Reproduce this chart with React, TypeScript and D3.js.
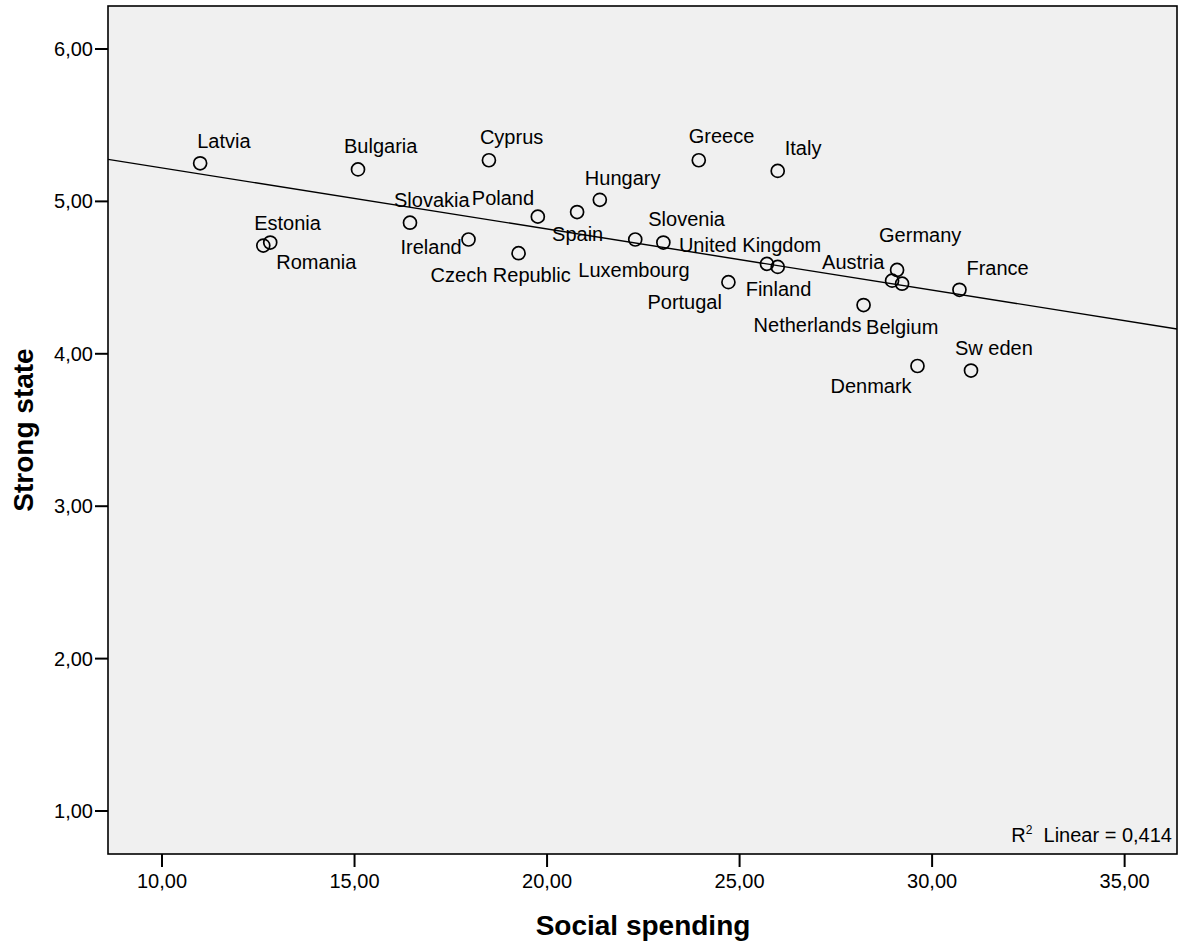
import React from "react";
import * as d3 from "d3";

const countries = [
  "Latvia", "Bulgaria", "Cyprus", "Greece", "Italy", "Hungary", "Spain", "Poland",
  "Slovakia", "Ireland", "Czech Republic", "Estonia", "Romania", "Slovenia", "Luxembourg",
  "United Kingdom", "Finland", "Portugal", "Germany", "Austria", "Belgium", "Netherlands",
  "France", "Denmark", "Sweden",
];
const displayLabels = [
  "Latvia", "Bulgaria", "Cyprus", "Greece", "Italy", "Hungary", "Spain", "Poland",
  "Slovakia", "Ireland", "Czech Republic", "Estonia", "Romania", "Slovenia", "Luxembourg",
  "United Kingdom", "Finland", "Portugal", "Germany", "Austria", "Belgium", "Netherlands",
  "France", "Denmark", "Sw eden",
];
const socialSpending = [
  10.99, 15.09, 18.49, 23.94, 25.99, 21.37, 20.78, 19.76,
  16.44, 17.96, 19.26, 12.81, 12.63, 22.29, 23.02,
  25.71, 25.99, 24.71, 29.09, 28.96, 29.22, 28.22,
  30.71, 29.62, 31.01,
];
const strongState = [
  5.25, 5.21, 5.27, 5.27, 5.20, 5.01, 4.93, 4.90,
  4.86, 4.75, 4.66, 4.73, 4.71, 4.75, 4.73,
  4.59, 4.57, 4.47, 4.55, 4.48, 4.46, 4.32,
  4.42, 3.92, 3.89,
];
// label placement (layout only): offset of text start / baseline from point centre, px
const labelDx = [-3, -14, -9, -10, 7, -15, -25, -66, -16, -68, -88, -16, 13, 13, -85, -88, -32, -81, -18, -70, -36, -110, 7, -87, -16];
const labelDy = [-15, -16, -16, -17, -16, -15, 29, -12, -16, 15, 29, -13, 23, -13, 34, -12, 29, 27, -28, -12, 50, 27, -15, 27, -16];

const xTicks = [10, 15, 20, 25, 30, 35];
const yTicks = [1, 2, 3, 4, 5, 6];
const xTitle = "Social spending";
const yTitle = "Strong state";
const r2Text = "Linear = 0,414";

const W = 1184, H = 947;
const L = 108, T = 6, R = 1177, B = 854;

export default function App() {
  const x = d3.scaleLinear().domain([8.597, 36.36]).range([L, R]);
  const y = d3.scaleLinear().domain([0.718, 6.282]).range([B, T]);
  const fmt = (v: number) => d3.format(".2f")(v).replace(".", ",");

  // least squares fit
  const n = socialSpending.length;
  const mx = d3.mean(socialSpending)!;
  const my = d3.mean(strongState)!;
  let sxy = 0, sxx = 0;
  for (let i = 0; i < n; i++) {
    sxy += (socialSpending[i] - mx) * (strongState[i] - my);
    sxx += (socialSpending[i] - mx) ** 2;
  }
  const slope = sxy / sxx;
  const icpt = my - slope * mx;
  const [x0, x1] = x.domain();
  const line = d3.line<number>().x((d) => x(d)).y((d) => y(icpt + slope * d));

  const font = "'Liberation Sans', Arial, sans-serif";

  return (
    <svg width={W} height={H} style={{ position: "absolute", left: 0, top: 0, background: "#fff" }} fontFamily={font}>
      <defs>
        <clipPath id="plotclip">
          <rect x={L} y={T} width={R - L} height={B - T} />
        </clipPath>
      </defs>
      <rect x={L} y={T} width={R - L} height={B - T} fill="#f0f0f0" />
      <path d={line([x0, x1]) || ""} stroke="#000" strokeWidth={1.4} fill="none" clipPath="url(#plotclip)" />
      {countries.map((c, i) => (
        <g key={c}>
          <circle cx={x(socialSpending[i])} cy={y(strongState[i])} r={6.5} fill="none" stroke="#000" strokeWidth={1.7} />
          <text x={x(socialSpending[i]) + labelDx[i]} y={y(strongState[i]) + labelDy[i]} fontSize={20} fill="#000">
            {displayLabels[i]}
          </text>
        </g>
      ))}
      <rect x={L} y={T} width={R - L} height={B - T} fill="none" stroke="#000" strokeWidth={1.6} />
      {xTicks.map((t) => (
        <g key={"x" + t}>
          <line x1={x(t)} x2={x(t)} y1={B} y2={B + 13} stroke="#000" strokeWidth={2} />
          <text x={x(t)} y={888} textAnchor="middle" fontSize={20}>{fmt(t)}</text>
        </g>
      ))}
      {yTicks.map((t) => (
        <g key={"y" + t}>
          <line x1={L - 13} x2={L} y1={y(t)} y2={y(t)} stroke="#000" strokeWidth={2} />
          <text x={93} y={y(t)} dy="0.35em" textAnchor="end" fontSize={20}>{fmt(t)}</text>
        </g>
      ))}
      <text x={643} y={935} textAnchor="middle" fontSize={28} fontWeight="bold">{xTitle}</text>
      <text transform={`translate(33, 430) rotate(-90)`} textAnchor="middle" fontSize={28} fontWeight="bold">{yTitle}</text>
      <text x={1172} y={842} textAnchor="end" fontSize={20}>
        <tspan>R</tspan>
        <tspan fontSize={12} dy={-8}>2</tspan>
        <tspan dy={8}>{"\u00a0\u00a0" + r2Text}</tspan>
      </text>
    </svg>
  );
}
